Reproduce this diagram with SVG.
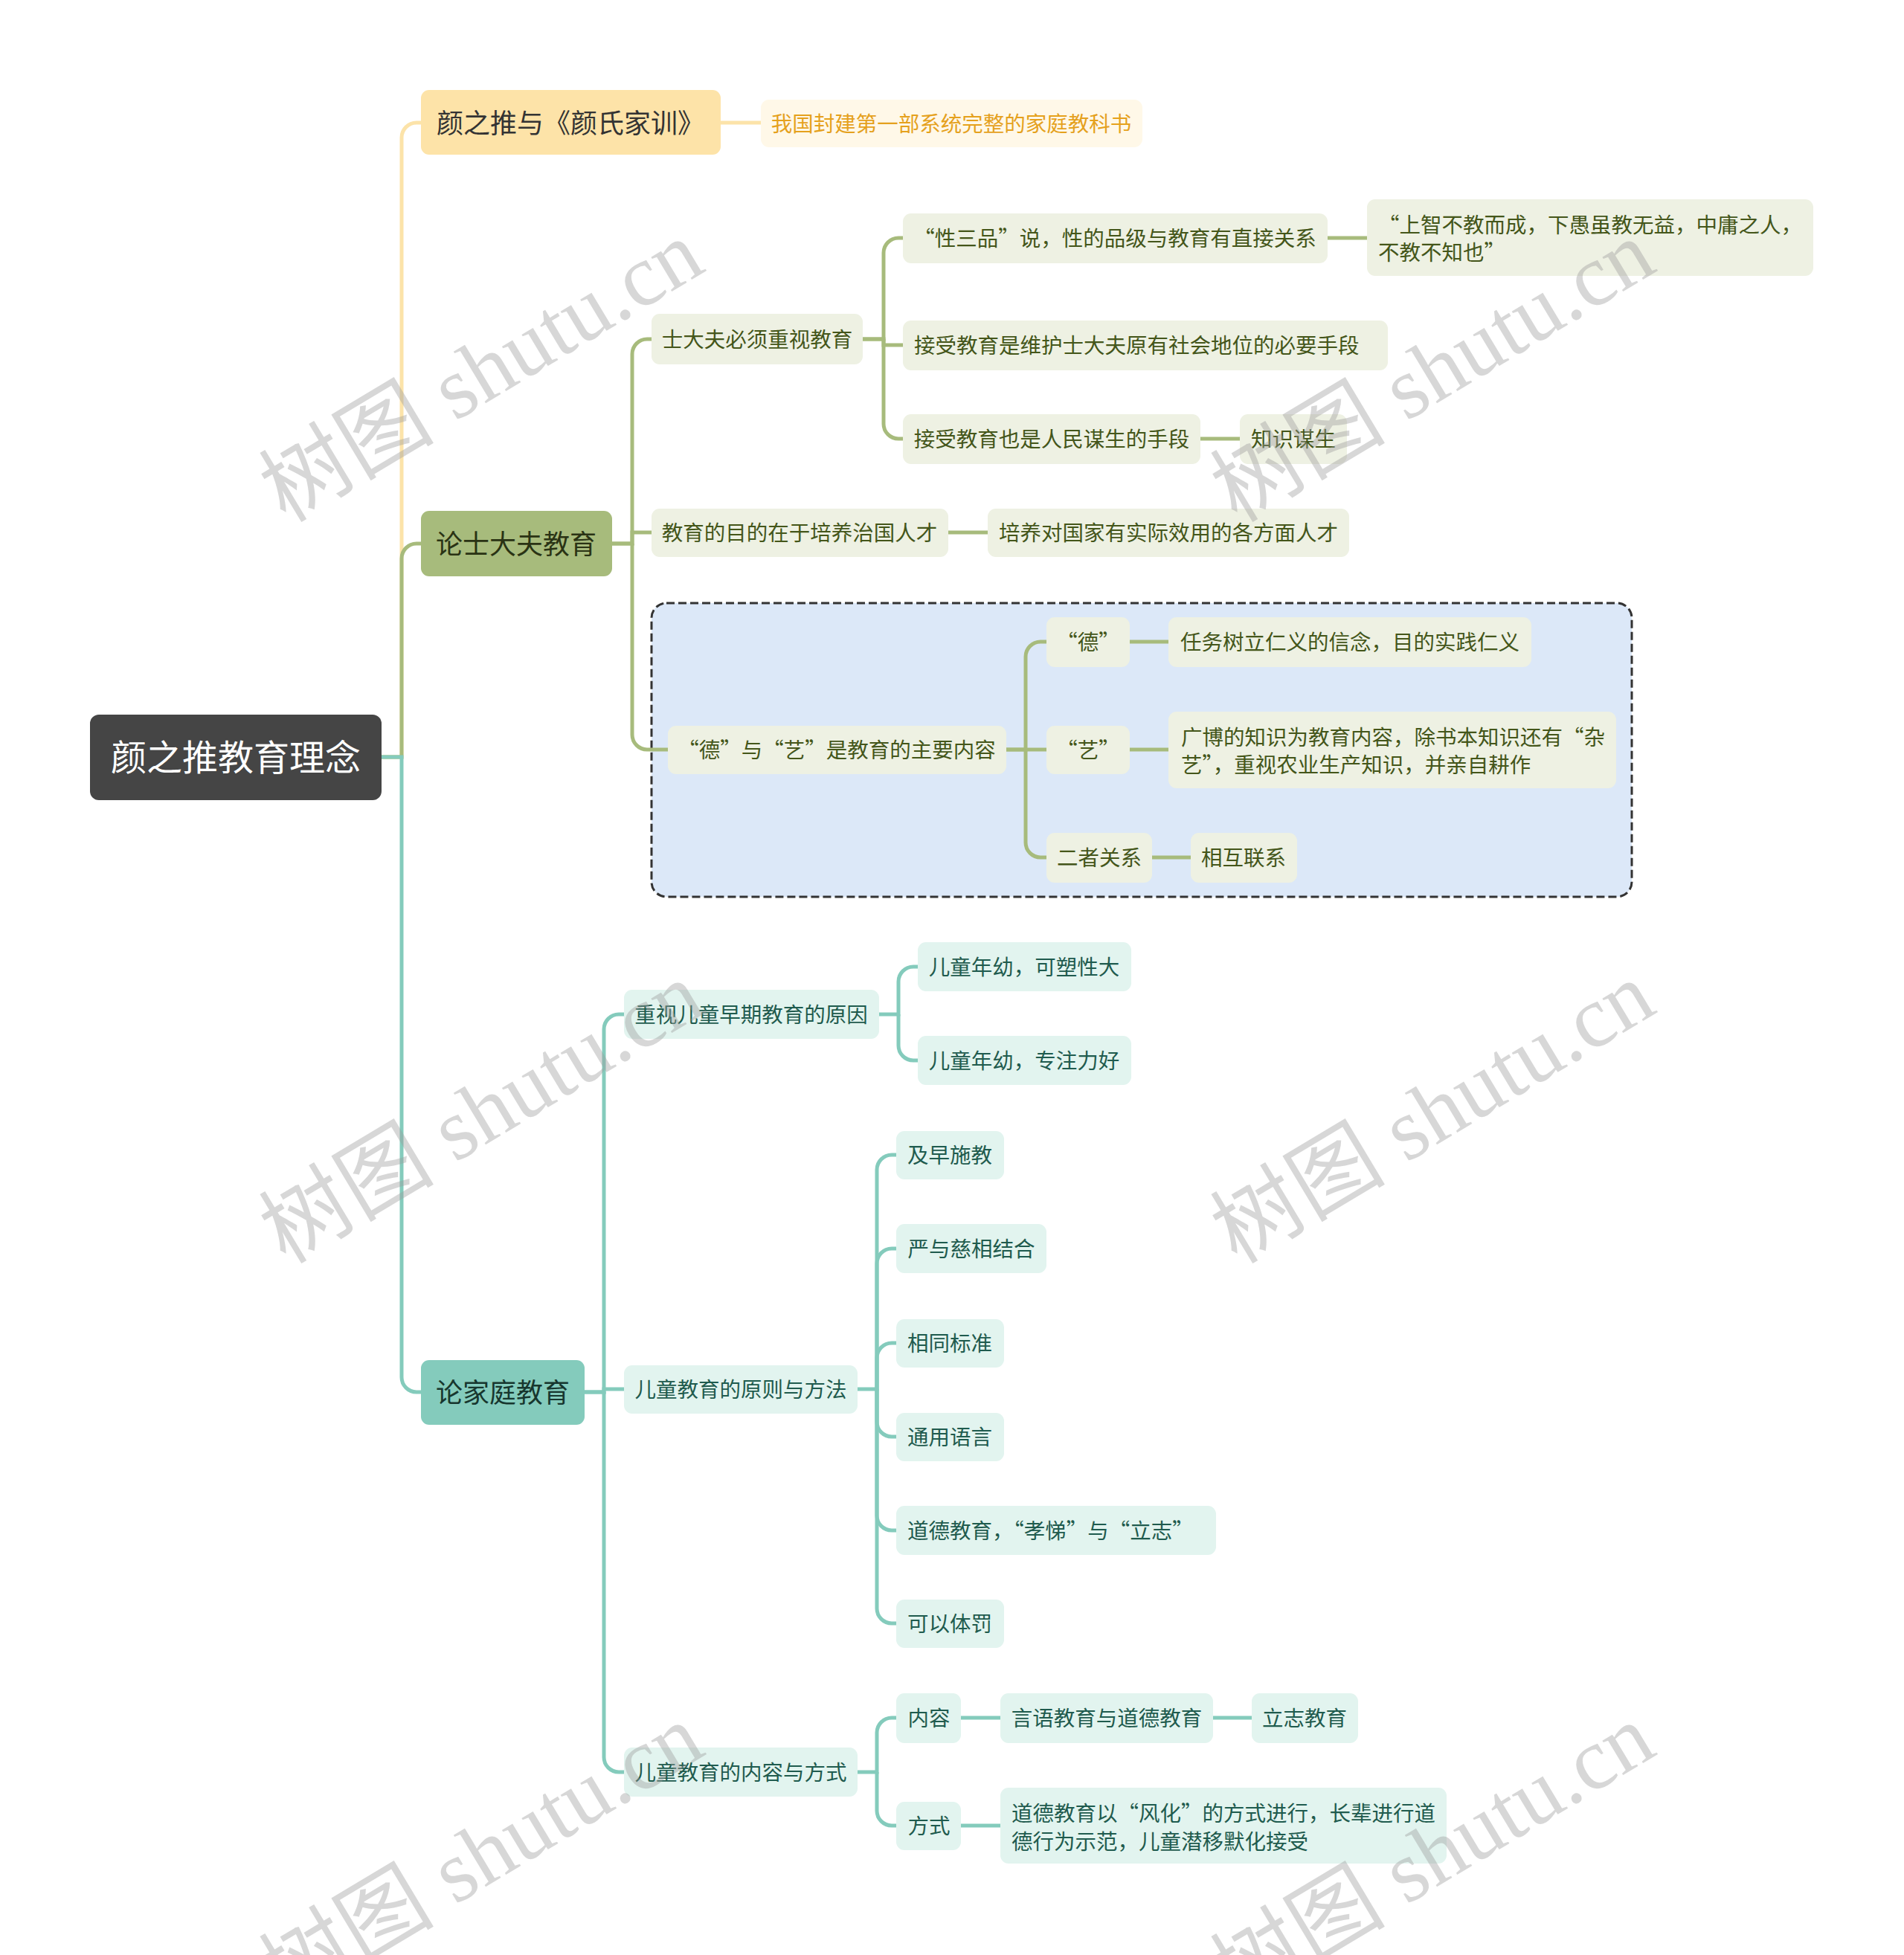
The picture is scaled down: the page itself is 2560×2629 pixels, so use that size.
<svg xmlns="http://www.w3.org/2000/svg" width="2560" height="2629" viewBox="0 0 2560 2629">
<style>
text{font-family:"Noto Sans CJK SC","Noto Sans",sans-serif;}
.c{text-anchor:middle;}
.root{fill:#454545;}
.roott{fill:#ffffff;font-size:48px;}
.ny{fill:#FDE3A8;}
.nyt{fill:#333333;font-size:36px;}
.ny2{fill:#FFF8E8;}
.ny2t{fill:#E5A11D;font-size:28.5px;}
.no{fill:#A7BB7C;}
.not{fill:#2A3314;font-size:36px;}
.no2{fill:#EEF1E3;}
.no2t{fill:#44561A;font-size:28.5px;}
.nt{fill:#84CBBC;}
.ntt{fill:#17362E;font-size:36px;}
.nt2{fill:#E2F4EF;}
.nt2t{fill:#1F5B4E;font-size:28.5px;}
.ly{fill:none;stroke:#FCE3A9;stroke-width:5;}
.lo{fill:none;stroke:#A7BB7C;stroke-width:5;}
.lt{fill:none;stroke:#84CBBC;stroke-width:5;}
.wm{font-family:"Liberation Serif","Noto Sans CJK SC",serif;font-size:118px;fill:#9a9a9a;fill-opacity:0.4;}
</style>
<rect width="2560" height="2629" fill="#ffffff"/>

<g id="boundary">
<rect x="876" y="811" width="1318" height="395" rx="20" fill="#DCE8F8" stroke="#333333" stroke-width="3" stroke-dasharray="11 5"/>
</g>

<g id="connectors">
<path class="ly" d="M513 1018 H540 V185 A20 20 0 0 1 560 165 H566"/>
<path class="ly" d="M969 165 H1023"/>
<path class="lo" d="M513 1018 H540 V751 A20 20 0 0 1 560 731 H566"/>
<path class="lt" d="M513 1018 H540 V1852 A20 20 0 0 0 560 1872 H566"/>

<path class="lo" d="M823 731 H850 V476 A20 20 0 0 1 870 456 H876"/>
<path class="lo" d="M823 731 H850 V716 H876"/>
<path class="lo" d="M850 731 V988 A20 20 0 0 0 870 1008 H898"/>

<path class="lo" d="M1160 456 H1188 V340 A20 20 0 0 1 1208 320 H1215"/>
<path class="lo" d="M1160 456 H1188 V464 H1215"/>
<path class="lo" d="M1188 456 V570 A20 20 0 0 0 1208 590 H1215"/>
<path class="lo" d="M1785 320 H1838"/>
<path class="lo" d="M1614 590 H1667"/>
<path class="lo" d="M1275 716 H1328"/>

<path class="lo" d="M1353 1008 H1379 V883 A20 20 0 0 1 1399 863 H1407"/>
<path class="lo" d="M1353 1008 H1407"/>
<path class="lo" d="M1379 1008 V1133 A20 20 0 0 0 1399 1153 H1407"/>
<path class="lo" d="M1519 863 H1571"/>
<path class="lo" d="M1519 1008 H1571"/>
<path class="lo" d="M1549 1153 H1601"/>

<path class="lt" d="M786 1872 H812 V1384 A20 20 0 0 1 832 1364 H839"/>
<path class="lt" d="M786 1872 H812 V1868 H839"/>
<path class="lt" d="M812 1872 V2363 A20 20 0 0 0 832 2383 H839"/>

<path class="lt" d="M1182 1364 H1208 V1320 A20 20 0 0 1 1228 1300 H1235"/>
<path class="lt" d="M1208 1364 V1406 A20 20 0 0 0 1228 1426 H1235"/>

<path class="lt" d="M1153 1868 H1179 V1573 A20 20 0 0 1 1199 1553 H1206"/>
<path class="lt" d="M1179 1868 V1699 A20 20 0 0 1 1199 1679 H1206"/>
<path class="lt" d="M1179 1868 V1826 A20 20 0 0 1 1199 1806 H1206"/>
<path class="lt" d="M1179 1868 V1912 A20 20 0 0 0 1199 1932 H1206"/>
<path class="lt" d="M1179 1868 V2038 A20 20 0 0 0 1199 2058 H1206"/>
<path class="lt" d="M1179 1868 V2163 A20 20 0 0 0 1199 2183 H1206"/>

<path class="lt" d="M1153 2383 H1179 V2330 A20 20 0 0 1 1199 2310 H1206"/>
<path class="lt" d="M1179 2383 V2435 A20 20 0 0 0 1199 2455 H1206"/>
<path class="lt" d="M1292 2310 H1345"/>
<path class="lt" d="M1631 2310 H1683"/>
<path class="lt" d="M1292 2455 H1345"/>
</g>

<g id="root"><rect class="root" x="121" y="961" width="392" height="115" rx="12"/><text class="roott c" x="317" y="1036">颜之推教育理念</text></g>

<g id="n-yan"><rect class="ny" x="566" y="121" width="403" height="87" rx="11"/><text class="nyt c" x="767" y="179">颜之推与《颜氏家训》</text></g>
<g id="n-yan-1"><rect class="ny2" x="1023" y="134" width="513" height="64" rx="11"/><text class="ny2t c" x="1279" y="177">我国封建第一部系统完整的家庭教科书</text></g>

<g id="n-shi"><rect class="no" x="566" y="687" width="257" height="88" rx="11"/><text class="not c" x="694" y="745">论士大夫教育</text></g>
<g id="n-shi-1"><rect class="no2" x="876" y="422" width="284" height="68" rx="11"/><text class="no2t c" x="1018" y="467">士大夫必须重视教育</text></g>
<g id="n-shi-1-1"><rect class="no2" x="1214" y="287" width="571" height="67" rx="11"/><text class="no2t c" x="1499" y="331">“性三品”说，性的品级与教育有直接关系</text></g>
<g id="n-shi-1-1-1"><rect class="no2" x="1838" y="268" width="600" height="103" rx="11"/><text class="no2t" x="1853" y="313">“上智不教而成，下愚虽教无益，中庸之人，</text><text class="no2t" x="1853" y="350">不教不知也”</text></g>
<g id="n-shi-1-2"><rect class="no2" x="1214" y="431" width="652" height="67" rx="11"/><text class="no2t" x="1229" y="475">接受教育是维护士大夫原有社会地位的必要手段</text></g>
<g id="n-shi-1-3"><rect class="no2" x="1214" y="557" width="400" height="67" rx="11"/><text class="no2t c" x="1414" y="601">接受教育也是人民谋生的手段</text></g>
<g id="n-shi-1-3-1"><rect class="no2" x="1667" y="557" width="144" height="67" rx="11"/><text class="no2t c" x="1739" y="601">知识谋生</text></g>
<g id="n-shi-2"><rect class="no2" x="876" y="684" width="399" height="65" rx="11"/><text class="no2t c" x="1075" y="727">教育的目的在于培养治国人才</text></g>
<g id="n-shi-2-1"><rect class="no2" x="1328" y="684" width="486" height="65" rx="11"/><text class="no2t c" x="1571" y="727">培养对国家有实际效用的各方面人才</text></g>
<g id="n-shi-3"><rect class="no2" x="898" y="976" width="455" height="65" rx="11"/><text class="no2t c" x="1125" y="1019">“德”与“艺”是教育的主要内容</text></g>
<g id="n-de"><rect class="no2" x="1407" y="830" width="112" height="67" rx="11"/><text class="no2t c" x="1463" y="874">“德”</text></g>
<g id="n-de-1"><rect class="no2" x="1571" y="830" width="488" height="67" rx="11"/><text class="no2t c" x="1815" y="874">任务树立仁义的信念，目的实践仁义</text></g>
<g id="n-yi"><rect class="no2" x="1407" y="976" width="112" height="65" rx="11"/><text class="no2t c" x="1463" y="1019">“艺”</text></g>
<g id="n-yi-1"><rect class="no2" x="1571" y="957" width="602" height="103" rx="11"/><text class="no2t" x="1588" y="1002">广博的知识为教育内容，除书本知识还有“杂</text><text class="no2t" x="1588" y="1039">艺”，重视农业生产知识，并亲自耕作</text></g>
<g id="n-er"><rect class="no2" x="1407" y="1120" width="142" height="67" rx="11"/><text class="no2t c" x="1478" y="1164">二者关系</text></g>
<g id="n-er-1"><rect class="no2" x="1601" y="1120" width="143" height="67" rx="11"/><text class="no2t c" x="1672" y="1164">相互联系</text></g>

<g id="n-jia"><rect class="nt" x="566" y="1829" width="220" height="87" rx="11"/><text class="ntt c" x="676" y="1886">论家庭教育</text></g>
<g id="n-jia-1"><rect class="nt2" x="839" y="1331" width="343" height="66" rx="11"/><text class="nt2t c" x="1010" y="1375">重视儿童早期教育的原因</text></g>
<g id="n-jia-1-1"><rect class="nt2" x="1234" y="1267" width="287" height="66" rx="11"/><text class="nt2t c" x="1377" y="1311">儿童年幼，可塑性大</text></g>
<g id="n-jia-1-2"><rect class="nt2" x="1234" y="1393" width="287" height="66" rx="11"/><text class="nt2t c" x="1377" y="1437">儿童年幼，专注力好</text></g>
<g id="n-jia-2"><rect class="nt2" x="839" y="1836" width="314" height="65" rx="11"/><text class="nt2t c" x="996" y="1879">儿童教育的原则与方法</text></g>
<g id="n-jia-2-1"><rect class="nt2" x="1205" y="1521" width="145" height="65" rx="11"/><text class="nt2t c" x="1277" y="1564">及早施教</text></g>
<g id="n-jia-2-2"><rect class="nt2" x="1205" y="1646" width="202" height="66" rx="11"/><text class="nt2t c" x="1306" y="1690">严与慈相结合</text></g>
<g id="n-jia-2-3"><rect class="nt2" x="1205" y="1774" width="145" height="65" rx="11"/><text class="nt2t c" x="1277" y="1817">相同标准</text></g>
<g id="n-jia-2-4"><rect class="nt2" x="1205" y="1900" width="145" height="65" rx="11"/><text class="nt2t c" x="1277" y="1943">通用语言</text></g>
<g id="n-jia-2-5"><rect class="nt2" x="1205" y="2025" width="430" height="66" rx="11"/><text class="nt2t" x="1220" y="2069">道德教育，“孝悌”与“立志”</text></g>
<g id="n-jia-2-6"><rect class="nt2" x="1205" y="2151" width="145" height="65" rx="11"/><text class="nt2t c" x="1277" y="2194">可以体罚</text></g>
<g id="n-jia-3"><rect class="nt2" x="839" y="2350" width="314" height="66" rx="11"/><text class="nt2t c" x="996" y="2394">儿童教育的内容与方式</text></g>
<g id="n-nr"><rect class="nt2" x="1205" y="2277" width="87" height="67" rx="11"/><text class="nt2t c" x="1249" y="2321">内容</text></g>
<g id="n-nr-1"><rect class="nt2" x="1345" y="2277" width="286" height="67" rx="11"/><text class="nt2t c" x="1488" y="2321">言语教育与道德教育</text></g>
<g id="n-nr-2"><rect class="nt2" x="1683" y="2277" width="143" height="67" rx="11"/><text class="nt2t c" x="1754" y="2321">立志教育</text></g>
<g id="n-fs"><rect class="nt2" x="1205" y="2423" width="87" height="65" rx="11"/><text class="nt2t c" x="1249" y="2466">方式</text></g>
<g id="n-fs-1"><rect class="nt2" x="1345" y="2404" width="600" height="102" rx="11"/><text class="nt2t" x="1360" y="2449">道德教育以“风化”的方式进行，长辈进行道</text><text class="nt2t" x="1360" y="2487">德行为示范，儿童潜移默化接受</text></g>

<g id="watermarks">
<text class="wm" x="384" y="704" transform="rotate(-31 384 704)">树图 shutu.cn</text>
<text class="wm" x="1663" y="704" transform="rotate(-31 1663 704)">树图 shutu.cn</text>
<text class="wm" x="384" y="1701" transform="rotate(-31 384 1701)">树图 shutu.cn</text>
<text class="wm" x="1663" y="1701" transform="rotate(-31 1663 1701)">树图 shutu.cn</text>
<text class="wm" x="384" y="2699" transform="rotate(-31 384 2699)">树图 shutu.cn</text>
<text class="wm" x="1663" y="2699" transform="rotate(-31 1663 2699)">树图 shutu.cn</text>
</g>
</svg>
